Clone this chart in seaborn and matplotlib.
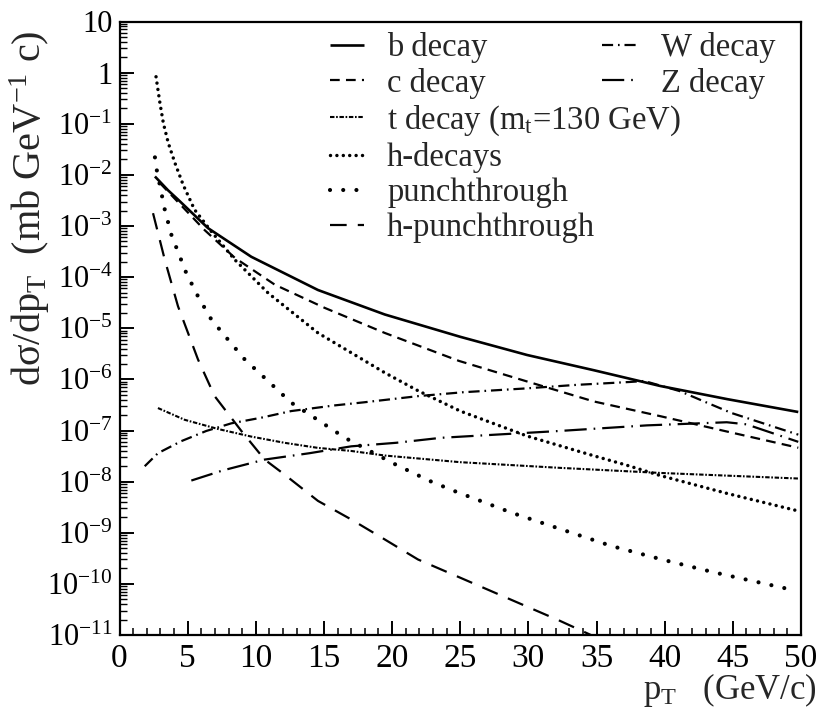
import numpy as np
import pandas as pd
import matplotlib
matplotlib.use("Agg")
import matplotlib.pyplot as plt
import seaborn as sns
from matplotlib.ticker import FixedLocator, FixedFormatter, LogLocator, MultipleLocator, NullFormatter

# ---------------- data ----------------
b_x = [2.6, 3.56, 4.29, 6.49, 9.67, 14.56, 19.46, 25.0, 29.9, 34.8, 39.7, 44.6, 49.8]
b_y = [9.3e-3, 5.0e-3, 3.3e-3, 9.1e-4, 2.5e-4, 5.6e-5, 1.86e-5, 6.8e-6, 3.0e-6, 1.51e-6, 7.4e-7, 4.1e-7, 2.3e-7]

c_x = [2.97, 6.25, 8.45, 11.4, 15.06, 19.46, 24.9, 29.9, 34.8, 39.7, 44.6, 49.8]
c_y = [6.9e-3, 8.3e-4, 2.4e-4, 7.1e-5, 2.5e-5, 8.1e-6, 2.3e-6, 9.1e-7, 3.7e-7, 1.9e-7, 9.5e-8, 4.6e-8]

t_x = [2.82, 4.78, 7.23, 9.67, 12.1, 14.56, 17.0, 19.46, 25.0, 32.3, 39.65, 49.8]
t_y = [2.75e-7, 1.62e-7, 1.07e-7, 7.6e-8, 5.75e-8, 4.57e-8, 3.98e-8, 3.24e-8, 2.40e-8, 1.86e-8, 1.48e-8, 1.15e-8]

hdec_x = [2.68, 2.97, 3.22, 3.58, 4.07, 4.68, 5.5, 6.74, 8.45, 10.9, 14.56, 19.46, 21.9, 25.0, 29.9, 34.8, 37.2, 39.65, 44.55, 49.6]
hdec_y = [0.83, 0.25, 0.102, 0.042, 0.017, 6.3e-3, 2.1e-3, 7.8e-4, 2.2e-4, 4.9e-5, 8.1e-6, 1.35e-6, 6.0e-7, 2.4e-7, 7.8e-8, 3.2e-8, 2.1e-8, 1.32e-8, 5.9e-9, 2.75e-9]

pt_x = [2.6, 2.73, 3.32, 3.8, 4.9, 5.76, 6.74, 7.96, 9.19, 10.65, 12.6, 14.3, 15.9, 16.8, 20.2, 22.8, 24.6, 28.8, 32.4, 36.1, 39.9, 43.7, 49.4]
pt_y = [2.2e-2, 1.26e-2, 2.1e-3, 6.8e-4, 1.2e-4, 4.2e-5, 1.48e-5, 6.0e-6, 2.45e-6, 1.07e-6, 3.5e-7, 1.78e-7, 9.3e-8, 6.6e-8, 2.2e-8, 1.02e-8, 6.5e-9, 2.45e-9, 1.17e-9, 5.5e-10, 2.95e-10, 1.66e-10, 7.6e-11]

hpt_x = [2.46, 3.32, 4.29, 5.76, 6.98, 7.72, 8.94, 10.65, 12.1, 14.56, 17.0, 19.46, 21.9, 25.0, 28.65, 32.3, 35.0]
hpt_y = [1.78e-3, 2.2e-4, 2.7e-5, 2.45e-6, 4.7e-7, 2.6e-7, 9.8e-8, 2.7e-8, 1.38e-8, 4.2e-9, 1.82e-9, 7.4e-10, 3.0e-10, 1.32e-10, 5.0e-11, 1.9e-11, 8.9e-12]

w_x = [1.85, 2.82, 4.54, 6.37, 8.2, 10.4, 12.6, 15.8, 17.9, 21.9, 25.2, 29.6, 33.5, 37.45, 38.5, 41.1, 43.1, 44.9, 48.6, 49.8]
w_y = [2.0e-8, 3.6e-8, 6.2e-8, 9.8e-8, 1.38e-7, 1.78e-7, 2.4e-7, 3.1e-7, 3.55e-7, 4.7e-7, 5.6e-7, 6.6e-7, 7.8e-7, 8.9e-7, 9.3e-7, 5.9e-7, 3.5e-7, 2.2e-7, 1.05e-7, 8.3e-8]

z_x = [5.27, 7.59, 10.65, 13.95, 17.0, 20.3, 23.6, 32.3, 38.7, 44.55, 46.0, 49.8]
z_y = [1.05e-8, 1.66e-8, 2.7e-8, 3.6e-8, 4.9e-8, 5.75e-8, 7.2e-8, 9.8e-8, 1.26e-7, 1.45e-7, 1.32e-7, 6.0e-8]

x_ticks = [0, 5, 10, 15, 20, 25, 30, 35, 40, 45, 50]
y_exps = list(range(-11, 2))
y_tick_labels = ["$10^{%d}$" % e for e in range(-11, 0)] + ["1", "10"]

# ---------------- style ----------------
sns.set_theme(style="ticks")
plt.rcParams["font.family"] = ["Liberation Serif", "DejaVu Serif"]
plt.rcParams["mathtext.fontset"] = "custom"
plt.rcParams["mathtext.rm"] = "Liberation Serif"
plt.rcParams["mathtext.it"] = "Liberation Serif:italic"
plt.rcParams["mathtext.default"] = "rm"
plt.rcParams["lines.scale_dashes"] = False

fig = plt.figure(figsize=(8.22, 7.16), dpi=100)
L, R, T, B = 119.5, 801, 21.5, 635
ax = fig.add_axes([L / 822, (716 - B) / 716, (R - L) / 822, (B - T) / 716])

series = [
    ("b decay", b_x, b_y, "-", 1.9, "butt"),
    ("c decay", c_x, c_y, (0, (7, 4.5)), 1.6, "butt"),
    ("t decay (m$_\\mathrm{t}$=130 GeV)", t_x, t_y, (0, (3.2, 1.2, 1.2, 1.2)), 1.5, "butt"),
    ("h-decays", hdec_x, hdec_y, (0, (0.01, 4.6)), 2.5, "round"),
    ("punchthrough", pt_x, pt_y, (0, (0.01, 9.5)), 3.0, "round"),
    ("h-punchthrough", hpt_x, hpt_y, (0, (12, 8)), 1.6, "butt"),
    ("W decay", w_x, w_y, (0, (8, 3.5, 1.2, 3.5)), 1.6, "butt"),
    ("Z decay", z_x, z_y, (0, (16, 5, 1.2, 5)), 1.6, "butt"),
]

handles = {}
for name, xs, ys, ls, lw, cap in series:
    df = pd.DataFrame({"pT": xs, "val": ys})
    sns.lineplot(data=df, x="pT", y="val", ax=ax, color="black", linestyle=ls,
                 linewidth=lw, estimator=None, sort=False)
    ln = ax.lines[-1]
    ln.set_dash_capstyle(cap)
    ln.set_solid_capstyle(cap)
    handles[name] = ln

ax.set_yscale("log")
ax.set_xlim(0, 50)
ax.set_ylim(1e-11, 1e1)
ax.set_xlabel("")
ax.set_ylabel("")

ax.xaxis.set_major_locator(FixedLocator(x_ticks))
ax.xaxis.set_minor_locator(MultipleLocator(1))
ax.yaxis.set_major_locator(FixedLocator([10.0 ** e for e in y_exps]))
ax.yaxis.set_major_formatter(FixedFormatter(y_tick_labels))
ax.yaxis.set_minor_locator(LogLocator(base=10, subs=np.arange(2, 10), numticks=50))
ax.yaxis.set_minor_formatter(NullFormatter())

ax.tick_params(axis="both", which="both", direction="in", color="black", labelcolor="black",
               bottom=True, left=True, top=False, right=False)
ax.tick_params(axis="x", which="major", length=10, width=1.4, labelsize=24, pad=6)
ax.tick_params(axis="x", which="minor", length=5, width=1.1)
ax.tick_params(axis="y", which="major", length=10, width=1.4, labelsize=22, pad=5)
ax.tick_params(axis="y", which="minor", length=5, width=1.0)
for sp in ax.spines.values():
    sp.set_visible(True)
    sp.set_color("black")
    sp.set_linewidth(1.6)

# legends
fs = 23.5
names1 = ["b decay", "c decay", "t decay (m$_\\mathrm{t}$=130 GeV)", "h-decays", "punchthrough", "h-punchthrough"]
leg1 = ax.legend([handles[n] for n in names1], names1, loc="upper left",
                 bbox_to_anchor=(330 / 822, 1 - 32 / 716), bbox_transform=fig.transFigure,
                 frameon=False, fontsize=fs, handlelength=1.05, handletextpad=0.7,
                 labelspacing=0.14, borderpad=0, borderaxespad=0)
ax.add_artist(leg1)
names2 = ["W decay", "Z decay"]
leg2 = ax.legend([handles[n] for n in names2], names2, loc="upper left",
                 bbox_to_anchor=(602 / 822, 1 - 32 / 716), bbox_transform=fig.transFigure,
                 frameon=False, fontsize=fs, handlelength=1.05, handletextpad=0.75,
                 labelspacing=0.14, borderpad=0, borderaxespad=0)

fig.text(30 / 822, 1 - 208 / 716, "dσ/dp$_\\mathrm{T}$  (mb GeV$^{-1}$ c)", rotation=90,
         ha="center", va="center", fontsize=29)
fig.text(817 / 822, 1 - 690 / 716, "p$_\\mathrm{T}$   (GeV/c)", ha="right", va="center", fontsize=25)

fig.savefig("out.png", dpi=100)
